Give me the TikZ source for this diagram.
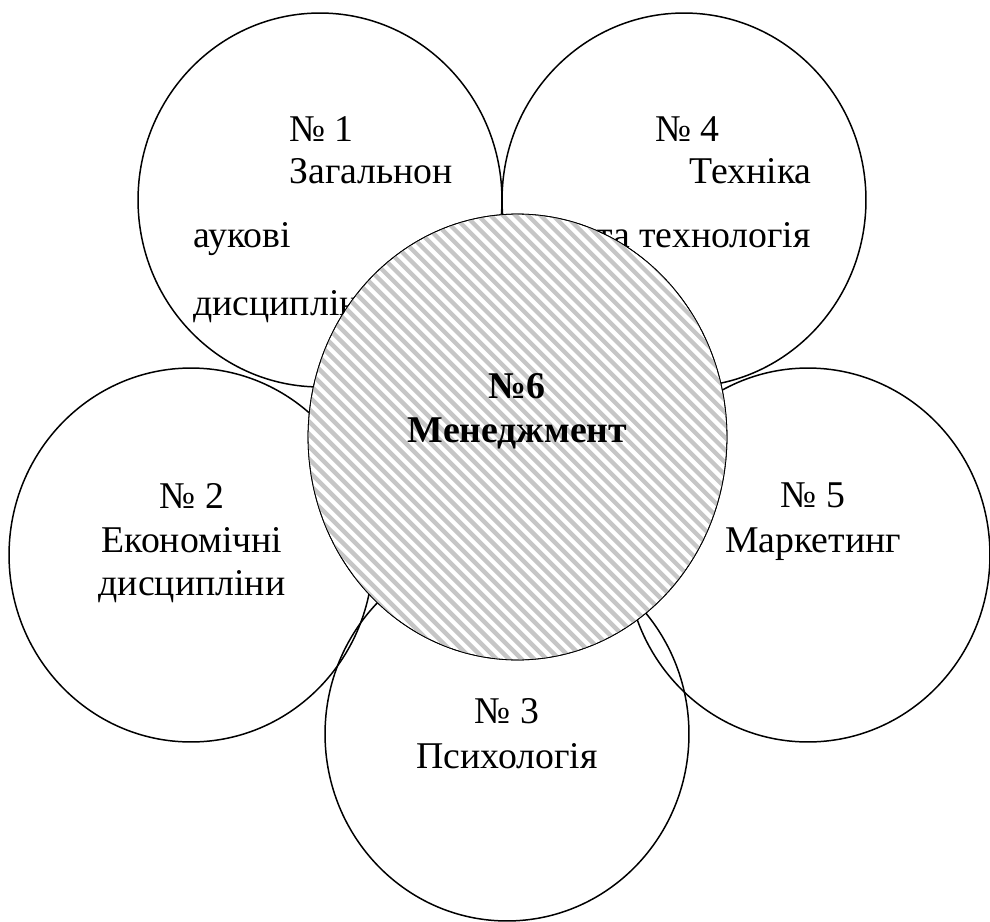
\documentclass[tikz,border=0pt]{standalone}
\usepackage{fontspec}
\setmainfont{Liberation Serif}
\usetikzlibrary{shapes.geometric}
\begin{document}
\begin{tikzpicture}[x=0.02cm,y=-0.02cm,
  petal/.style={ellipse, draw, line width=0.85pt, minimum width=7.28cm, minimum height=7.48cm, inner sep=0pt},
  core/.style={ellipse, draw, line width=0.45pt, minimum width=8.38cm, minimum height=8.92cm, inner sep=0pt},
  lbl/.style={font=\fontsize{21.5}{25}\selectfont, inner sep=0pt},
  blbl/.style={font=\fontsize{21.5}{25}\selectfont\bfseries, inner sep=0pt},
  stripe/.style={draw=gray!45, line width=0.085cm}]
\useasboundingbox (0,0) rectangle (990,922);
% petals
\node[petal] (c1) at (320,200) {};
\node[petal] (c4) at (684,200) {};
\node[petal] (c2) at (191,555) {};
\node[petal] (c5) at (808,555) {};
\node[petal] (c3) at (507,734) {};
% petal texts
\node[lbl, anchor=base west] (t1a) at (289,142) {№ 1};
\node[lbl, anchor=base west] (t1b) at (289,184) {Загальнон};
\node[lbl, anchor=base west] (t1c) at (193,248) {аукові};
\node[lbl, anchor=base west] (t1d) at (193,315) {дисципліни};
\node[lbl, anchor=base west] (t4a) at (655,142) {№ 4};
\node[lbl, anchor=base east] (t4b) at (812,184) {Техніка};
\node[lbl, anchor=base east] (t4c) at (811,248) {та технологія};
\node[lbl, anchor=base] (t2a) at (192,508) {№ 2};
\node[lbl, anchor=base] (t2b) at (192,552) {Економічні};
\node[lbl, anchor=base] (t2c) at (192,595) {дисципліни};
\node[lbl, anchor=base] (t5a) at (813,507) {№ 5};
\node[lbl, anchor=base] (t5b) at (813,552) {Маркетинг};
\node[lbl, anchor=base] (t3a) at (507,723) {№ 3};
\node[lbl, anchor=base] (t3b) at (507,768) {Психологія};
% centre
\node[core, fill=white] (c6) at (517.5,437) {};
\begin{scope}
  \clip (517.5,437) ellipse [x radius=4.19cm, y radius=4.46cm];
  \foreach \c in {-375,-362.5,...,530}
    \draw[stripe] (\c+180,180) -- (\c+700,700);
\end{scope}
\node[core] (c6b) at (517.5,437) {};
\node[blbl, anchor=base] (t6a) at (517,398) {№6};
\node[blbl, anchor=base] (t6b) at (517.5,442) {Менеджмент};
\end{tikzpicture}
\end{document}
